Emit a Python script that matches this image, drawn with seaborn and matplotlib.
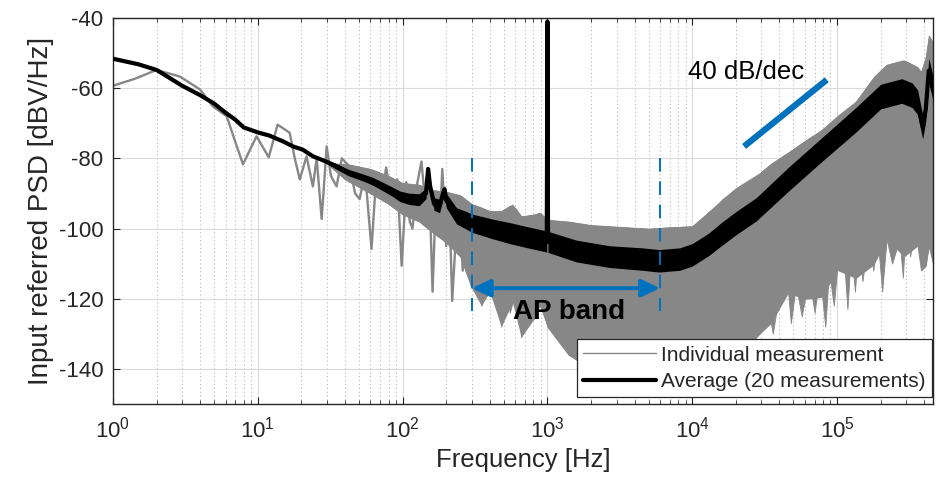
import numpy as np
import pandas as pd
import matplotlib
matplotlib.use("Agg")
import matplotlib.pyplot as plt
import seaborn as sns
from matplotlib.ticker import LogLocator, NullFormatter, FixedLocator

# ---------------- data ----------------
# individual measurement, low-frequency part (single trace with spikes)
ind_line_freq = [1, 1.42, 2.0, 2.9, 4.0, 4.9, 6.1, 6.9, 7.9, 9.8, 11.9, 13.7, 16.6, 18, 19.5,
                 21.7, 24, 25.5, 27.6, 29.9, 32, 35, 38, 43, 47, 50.5, 55, 61, 66, 72, 77,
                 85, 92, 98.5, 106, 112, 117, 125, 135, 145, 152, 161, 170, 180, 188, 200,
                 210, 220, 235, 248, 260, 275, 300]
ind_line_db = [-59.3, -57.3, -54.8, -56.7, -60.4, -65.2, -68.0, -74.6, -81.7, -73.7, -79.7, -70.4,
               -72.7, -80.0, -86.0, -79.4, -88.0, -80.0, -97.3, -76.6, -85.0, -88.0, -80.0, -82.3,
               -90.0, -91.6, -84.0, -105.8, -84.0, -90.0, -82.6, -93.6, -86.0, -110.6, -86.8,
               -98.0, -100.0, -88.0, -80.9, -95.0, -84.0, -118.0, -90.0, -100.0, -83.0, -105.0,
               -92.0, -120.6, -100.0, -91.6, -112.0, -95.0, -116.3]

# individual measurement, dense part: upper envelope
ind_hi_freq = [32, 40, 60, 80, 100, 130, 160, 200, 250, 300, 350, 400, 480, 574, 660, 800, 880,
               1000, 1400, 2000, 3000, 5000, 7000, 1e4, 1.3e4, 1.6e4, 2e4, 2.77e4, 3.5e4,
               4.6e4, 6e4, 7.9e4, 1e5, 1.35e5, 1.8e5, 2.2e5, 2.9e5, 3.6e5, 3.9e5, 4.1e5,
               4.3e5, 4.6e5]
ind_hi_db = [-81.5, -81.5, -83, -85, -87, -87.5, -89, -89.5, -90.5, -93, -94, -95, -95, -93,
             -96.5, -96, -95.3, -97.5, -98, -99, -99.5, -100, -99.5, -99.3, -95.5, -91.6,
             -88.5, -85, -81.5, -78.3, -75, -71.8, -68, -63.8, -56.7, -53.3, -52, -54, -56,
             -51, -45, -47]

# individual measurement, dense part: lower envelope (with its spikes)
ind_lo_freq = [32, 40, 60, 80, 100, 130, 160, 200, 250, 300, 330, 350, 380, 400, 430, 480, 510,
               550, 600, 660, 720, 800, 900, 1000, 1400, 2000, 5000, 1e4, 2e4, 2.9e4, 3.3e4,
               3.6e4, 4.0e4, 4.5e4, 4.8e4, 5.2e4, 5.7e4, 6.4e4, 7.0e4, 7.6e4, 8.3e4, 8.8e4,
               9.5e4, 1.02e5, 1.1e5, 1.18e5, 1.25e5, 1.33e5, 1.4e5, 1.5e5, 1.65e5, 1.78e5,
               1.9e5, 2.05e5, 2.2e5, 2.4e5, 2.7e5, 2.85e5, 3.0e5, 3.2e5, 3.4e5, 3.6e5, 3.8e5,
               4.1e5, 4.3e5, 4.6e5]
ind_lo_db = [-82.5, -86, -90, -93, -96, -98, -101, -104, -108, -117, -112, -122, -113, -118,
             -114, -128, -117, -124, -118, -131, -120, -126, -121, -128, -136, -140, -140,
             -140, -138, -130, -121, -130, -118, -114, -127, -116, -125, -114, -124, -113,
             -128, -112, -122, -108, -105, -123, -106, -118, -105, -115, -101, -112, -102,
             -118, -103, -110, -103, -114, -96.5, -108, -100, -105, -112, -110.6, -105, -110]

# average of 20 measurements (centre) and half-width of its noisy band
avg_freq = [1, 1.5, 2, 3, 4, 5, 6, 7, 8, 10, 12, 15, 17.5, 20.4, 24, 30, 35, 42, 52.8, 62,
            72.8, 85, 95.6, 110, 130, 145, 150, 155, 165, 180, 190, 195, 200, 236, 270, 303,
            417, 550, 714, 990, 1000, 1010, 1580, 2680, 4530, 5900, 8200, 1e4, 1.3e4, 1.6e4,
            2e4, 2.77e4, 4.6e4, 7.9e4, 1.35e5, 2e5, 2.8e5, 3.3e5, 3.6e5, 3.9e5, 4.1e5,
            4.3e5, 4.6e5]
avg_db = [-51.6, -53.2, -54.8, -59.3, -62.0, -64.4, -67.0, -69.0, -71.2, -72.6, -73.5, -75.2,
          -76.6, -77.5, -79.4, -81.0, -82.3, -84.0, -85.4, -86.5, -88.0, -89.5, -90.8, -91.5,
          -91.8, -90.0, -83.0, -88.0, -93.0, -93.6, -90.0, -88.8, -92.0, -96.4, -97.5, -98.5,
          -100.1, -101.3, -102.4, -103.7, -41.0, -103.8, -106.4, -108.0, -108.7, -109.2,
          -108.7, -107.5, -104.5, -101.5, -98.5, -94.5, -86.0, -77.4, -69.0, -62.4, -60.8,
          -62.0, -64.0, -71.0, -66.0, -55.0, -60.0]
avg_spread = [0, 0, 0, 0, 0, 0, 0, 0, 0, 0, 0, 0, 0, 0, 0, 0.6, 0.8, 0.9, 1.0, 1.1, 1.2, 1.3,
              1.5, 1.6, 1.7, 1.5, 0.5, 1.5, 1.8, 1.9, 1.5, 1.0, 2.0, 2.3, 2.5, 2.6, 2.8, 3.0,
              3.0, 3.0, 0.0, 3.0, 3.1, 3.1, 3.2, 3.2, 3.2, 3.2, 3.2, 3.3, 3.3, 3.3, 3.4, 3.4,
              3.5, 3.5, 3.5, 3.5, 3.5, 3.5, 3.5, 3.5, 3.5]

# annotations
ap_band = [300, 6000]
ap_dash_db = [-80, -123.5]
ap_arrow_db = -117
ap_text_pos = (1400, -123.7)
slope_freq = [2.28e4, 8.5e4]
slope_db = [-76.6, -57.6]
slope_text_pos = (2.35e4, -55.4)

x_ticks = [1e0, 1e1, 1e2, 1e3, 1e4, 1e5]
y_ticks = [-140, -120, -100, -80, -60, -40]
x_limits = (1, 4.6e5)
y_limits = (-150, -40)

# ---------------- styling ----------------
sns.set_style("ticks")
plt.rcParams["font.family"] = ["Liberation Sans", "DejaVu Sans"]
plt.rcParams["mathtext.fontset"] = "custom"
plt.rcParams["mathtext.rm"] = "Liberation Sans"
plt.rcParams["mathtext.it"] = "Liberation Sans:italic"
plt.rcParams["mathtext.bf"] = "Liberation Sans:bold"
plt.rcParams["axes.unicode_minus"] = False

GRAY = "#878787"
BLUE = "#0072BD"
AXC = "#262626"

fig = plt.figure(figsize=(9.37, 4.88), dpi=100)
ax = fig.add_axes([113 / 937, 1 - 404 / 488, 820 / 937, 386 / 488])
ax.set_xscale("log")

# grid
ax.set_axisbelow(True)
ax.grid(which="major", axis="both", color="#dadada", lw=0.8, ls="-")
ax.grid(which="minor", axis="x", color="#b8b8b8", lw=0.8, ls=(0, (1, 2.5)))

# individual measurement
df_line = pd.DataFrame({"f": ind_line_freq, "db": ind_line_db})
ax.fill_between(ind_hi_freq, ind_hi_db,
                np.interp(np.log10(ind_hi_freq), np.log10(ind_lo_freq), ind_lo_db),
                color=GRAY, lw=0, zorder=2)
ax.fill_between(ind_lo_freq,
                np.interp(np.log10(ind_lo_freq), np.log10(ind_hi_freq), ind_hi_db),
                ind_lo_db, color=GRAY, lw=0.6, edgecolor=GRAY, zorder=2)
sns.lineplot(data=df_line, x="f", y="db", ax=ax, color=GRAY, lw=1.7,
             estimator=None, sort=False, label="Individual measurement", zorder=2.5)

# average
avg_arr = np.array(avg_db)
spr = np.array(avg_spread)
ax.fill_between(avg_freq, avg_arr - spr, avg_arr + spr, color="black", lw=0, zorder=3)
df_avg = pd.DataFrame({"f": avg_freq, "db": avg_db})
sns.lineplot(data=df_avg, x="f", y="db", ax=ax, color="black", lw=3.0,
             estimator=None, sort=False, label="Average (20 measurements)", zorder=3.5)

# annotations
for fb in ap_band:
    ax.plot([fb, fb], ap_dash_db, color=BLUE, lw=1.4, ls=(0, (7, 5)), zorder=4)
ax.annotate("", xy=(ap_band[0], ap_arrow_db), xytext=(ap_band[1], ap_arrow_db),
            arrowprops=dict(arrowstyle="<|-|>,head_length=0.8,head_width=0.38",
                            color=BLUE, lw=2.8, shrinkA=0, shrinkB=0, mutation_scale=14),
            zorder=4)
ax.text(ap_text_pos[0], ap_text_pos[1], "AP band", fontsize=20, fontweight="bold",
        ha="center", va="center", color="black", zorder=4)
ax.plot(slope_freq, slope_db, color=BLUE, lw=4.5, solid_capstyle="butt", zorder=4)
ax.text(slope_text_pos[0], slope_text_pos[1], "40 dB/dec", fontsize=18.5,
        ha="center", va="center", color="black", zorder=4)

# axes
ax.set_xlim(*x_limits)
ax.set_ylim(*y_limits)
ax.xaxis.set_major_locator(FixedLocator(x_ticks))
ax.xaxis.set_minor_locator(LogLocator(base=10, subs=np.arange(2, 10), numticks=20))
ax.xaxis.set_minor_formatter(NullFormatter())
ax.yaxis.set_major_locator(FixedLocator(y_ticks))
ax.tick_params(which="both", direction="in", top=True, right=True, colors=AXC,
               labelcolor=AXC)
ax.tick_params(which="major", length=5, width=0.8, labelsize=16)
ax.tick_params(which="minor", length=3, width=0.6)
ax.tick_params(axis="x", which="major", pad=9)
ax.tick_params(axis="y", which="major", pad=7)
for s in ax.spines.values():
    s.set_color(AXC)
    s.set_linewidth(1.0)
    s.set_visible(True)

ax.set_xlabel("Frequency [Hz]", fontsize=18.5, color=AXC, labelpad=4)
ax.set_ylabel("Input referred PSD [dBV/Hz]", fontsize=20, color=AXC, labelpad=3)

leg = ax.legend(loc="lower right", bbox_to_anchor=(0.9988, 0.018), borderaxespad=0,
                fontsize=15, frameon=True, fancybox=False, framealpha=1,
                edgecolor=AXC, handlelength=3.5, handletextpad=0.25,
                labelspacing=0.35, borderpad=0.3)
leg.get_frame().set_linewidth(0.9)
leg.set_zorder(6)
lines = leg.get_lines()
lines[0].set_linewidth(1.0)
lines[1].set_linewidth(3.0)
for t in leg.get_texts():
    t.set_color(AXC)

fig.savefig("out.png", dpi=100)
